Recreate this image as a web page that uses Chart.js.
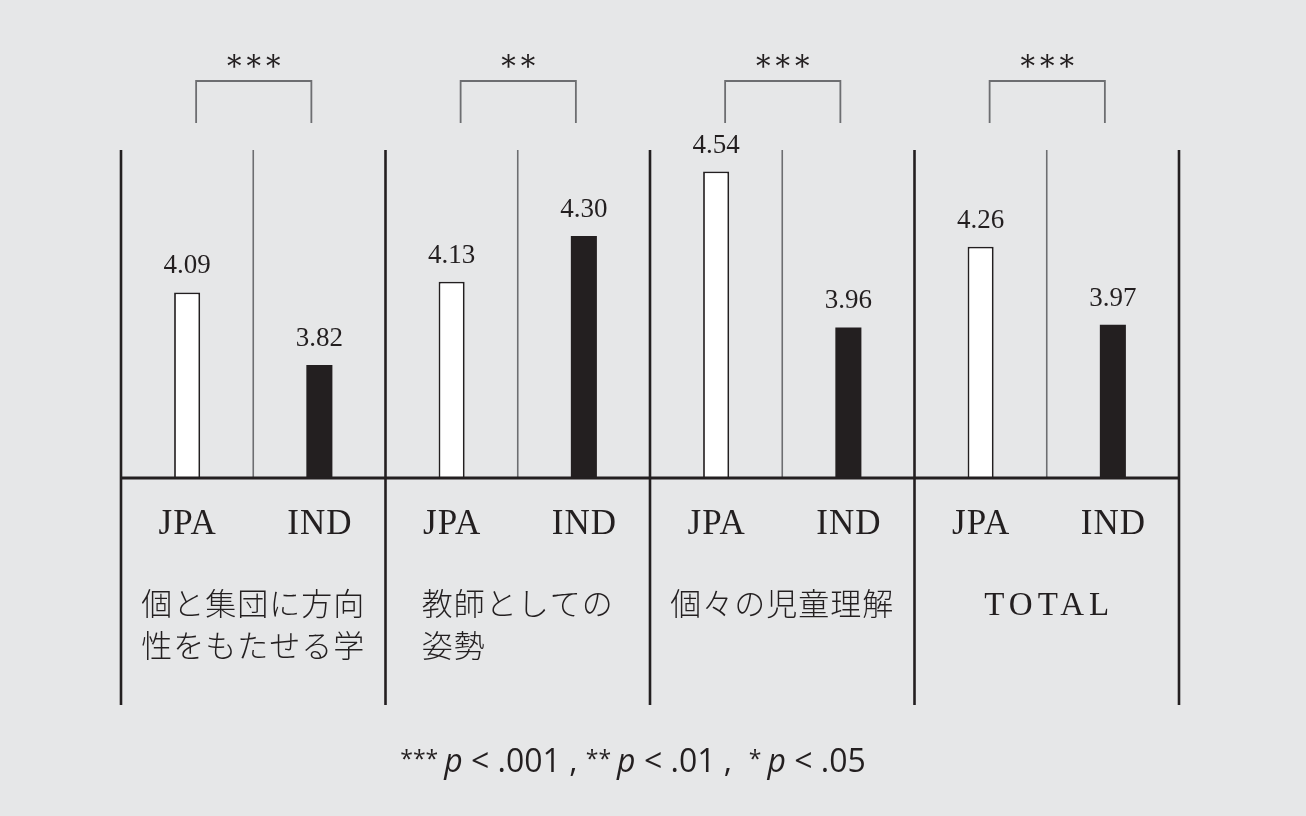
<!DOCTYPE html>
<html lang="ja">
<head>
<meta charset="utf-8">
<title>JPA / IND 比較</title>
<script src="https://cdn.jsdelivr.net/npm/chart.js@4.4.1/dist/chart.umd.min.js"></script>
<style>
  html, body { margin: 0; padding: 0; background: #e6e7e8; }
  #wrap { width: 1306px; height: 816px; position: relative; }
</style>
</head>
<body>
<div id="wrap"><canvas id="chart"></canvas></div>
<script>
// Categories (each may wrap onto two lines)
const categories = [
  ['個と集団に方向', '性をもたせる学'],
  ['教師としての', '姿勢'],
  ['個々の児童理解'],
  ['TOTAL']
];
const seriesNames = ['JPA', 'IND'];
const jpaValues = [4.09, 4.13, 4.54, 4.26];
const indValues = [3.82, 4.30, 3.96, 3.97];
const significance = ['***', '**', '***', '***'];
const footnoteRuns = [
  ['*** ', 'star'], ['p', 'italic'], [' < .001 , ', 'normal'],
  ['** ', 'star'], ['p', 'italic'], [' < .01 ,  ', 'normal'],
  ['* ', 'star'], ['p', 'italic'], [' < .05', 'normal']
];

const INK = '#231f20';
const GREY = '#6d6e71';
const SERIF = '"Liberation Serif", "DejaVu Serif", serif';
const SANS = '"Open Sans", "Noto Sans", sans-serif';
const CJK = '"Noto Sans CJK JP", "Noto Sans CJK SC", sans-serif';

function line(ctx, x1, y1, x2, y2, color, width) {
  ctx.save();
  ctx.strokeStyle = color;
  ctx.lineWidth = width;
  ctx.beginPath();
  ctx.moveTo(x1, y1);
  ctx.lineTo(x2, y2);
  ctx.stroke();
  ctx.restore();
}

const decorations = {
  id: 'decorations',
  beforeDraw(chart) {
    const ctx = chart.ctx;
    ctx.save();
    ctx.fillStyle = '#e6e7e8';
    ctx.fillRect(0, 0, chart.width, chart.height);
    ctx.restore();
  },
  afterDatasetsDraw(chart) {
    const ctx = chart.ctx;
    const a = chart.chartArea;
    const x = chart.scales.x;
    const n = categories.length;
    const step = (a.right - a.left) / n;
    const lineBottom = a.bottom + 227;
    const jpaMeta = chart.getDatasetMeta(0);
    const indMeta = chart.getDatasetMeta(1);

    // thin separators between the two bars of each category
    for (let i = 0; i < n; i++) {
      const cx = x.getPixelForValue(i);
      line(ctx, cx, a.top, cx, a.bottom, GREY, 1.6);
    }
    // baseline
    line(ctx, a.left, a.bottom, a.right, a.bottom, INK, 2.8);
    // category frame lines
    for (let i = 0; i <= n; i++) {
      const bx = a.left + i * step;
      line(ctx, bx, a.top, bx, lineBottom, INK, 2.6);
    }

    ctx.save();
    ctx.fillStyle = INK;
    ctx.textAlign = 'center';

    // value labels and series labels
    chart.data.datasets.forEach((ds, di) => {
      chart.getDatasetMeta(di).data.forEach((bar, i) => {
        ctx.font = '27px ' + SERIF;
        ctx.textBaseline = 'alphabetic';
        ctx.fillText(ds.data[i].toFixed(2), bar.x, bar.y - 19);
        ctx.font = '35px ' + SERIF;
        ctx.letterSpacing = '1px';
        ctx.fillText(seriesNames[di], bar.x + 0.5, a.bottom + 56);
        ctx.letterSpacing = '0px';
      });
    });

    // category names
    categories.forEach((lines, i) => {
      const cx = x.getPixelForValue(i);
      if (lines[0] === 'TOTAL') {
        ctx.font = '33px ' + SERIF;
        ctx.letterSpacing = '5px';
        ctx.textAlign = 'center';
        ctx.textBaseline = 'alphabetic';
        ctx.fillText(lines[0], cx + 2.5, a.bottom + 137);
        ctx.letterSpacing = '0px';
        return;
      }
      ctx.font = '300 31px ' + CJK;
      ctx.letterSpacing = '1px';
      ctx.textBaseline = 'middle';
      ctx.textAlign = 'left';
      const w0 = ctx.measureText(lines[0]).width;
      const left = cx - w0 / 2;
      lines.forEach((t, k) => ctx.fillText(t, left, a.bottom + 125 + k * 42));
      ctx.letterSpacing = '0px';
    });

    // significance brackets
    ctx.textAlign = 'center';
    ctx.textBaseline = 'alphabetic';
    for (let i = 0; i < n; i++) {
      const l = jpaMeta.data[i].x + 9;
      const r = indMeta.data[i].x - 8;
      const top = 81, bottom = 123;
      ctx.save();
      ctx.strokeStyle = GREY;
      ctx.lineWidth = 1.8;
      ctx.beginPath();
      ctx.moveTo(l, bottom);
      ctx.lineTo(l, top);
      ctx.lineTo(r, top);
      ctx.lineTo(r, bottom);
      ctx.stroke();
      ctx.restore();
      ctx.font = '29px "DejaVu Serif", serif';
      ctx.letterSpacing = '5px';
      ctx.fillText(significance[i], (l + r) / 2 + 2.5, 76);
      ctx.letterSpacing = '0px';
    }

    // footnote
    const fonts = {
      normal: '32px ' + SANS,
      italic: 'italic 32px ' + SANS,
      star: '23px ' + SANS
    };
    let total = 0;
    footnoteRuns.forEach(([t, s]) => { ctx.font = fonts[s]; total += ctx.measureText(t).width; });
    let fx = 633 - total / 2;
    ctx.textAlign = 'left';
    footnoteRuns.forEach(([t, s]) => {
      ctx.font = fonts[s];
      ctx.fillText(t, fx, s === 'star' ? 767 : 772);
      fx += ctx.measureText(t).width;
    });
    ctx.restore();
  }
};

new Chart(document.getElementById('chart'), {
  type: 'bar',
  data: {
    labels: categories,
    datasets: [
      {
        label: seriesNames[0],
        data: jpaValues,
        backgroundColor: '#ffffff',
        borderColor: INK,
        borderWidth: 1.8,
        categoryPercentage: 1,
        barPercentage: 0.197
      },
      {
        label: seriesNames[1],
        data: indValues,
        backgroundColor: INK,
        borderColor: INK,
        borderWidth: 0,
        categoryPercentage: 1,
        barPercentage: 0.197
      }
    ]
  },
  options: {
    responsive: true,
    maintainAspectRatio: false,
    devicePixelRatio: 1,
    animation: false,
    layout: { padding: { left: 121, right: 127, top: 150, bottom: 338 } },
    plugins: { legend: { display: false }, tooltip: { enabled: false }, title: { display: false } },
    scales: {
      x: { display: false, offset: true, grid: { display: false } },
      y: { display: false, min: 3.4, max: 4.62, grid: { display: false } }
    }
  },
  plugins: [decorations]
});
</script>
</body>
</html>
